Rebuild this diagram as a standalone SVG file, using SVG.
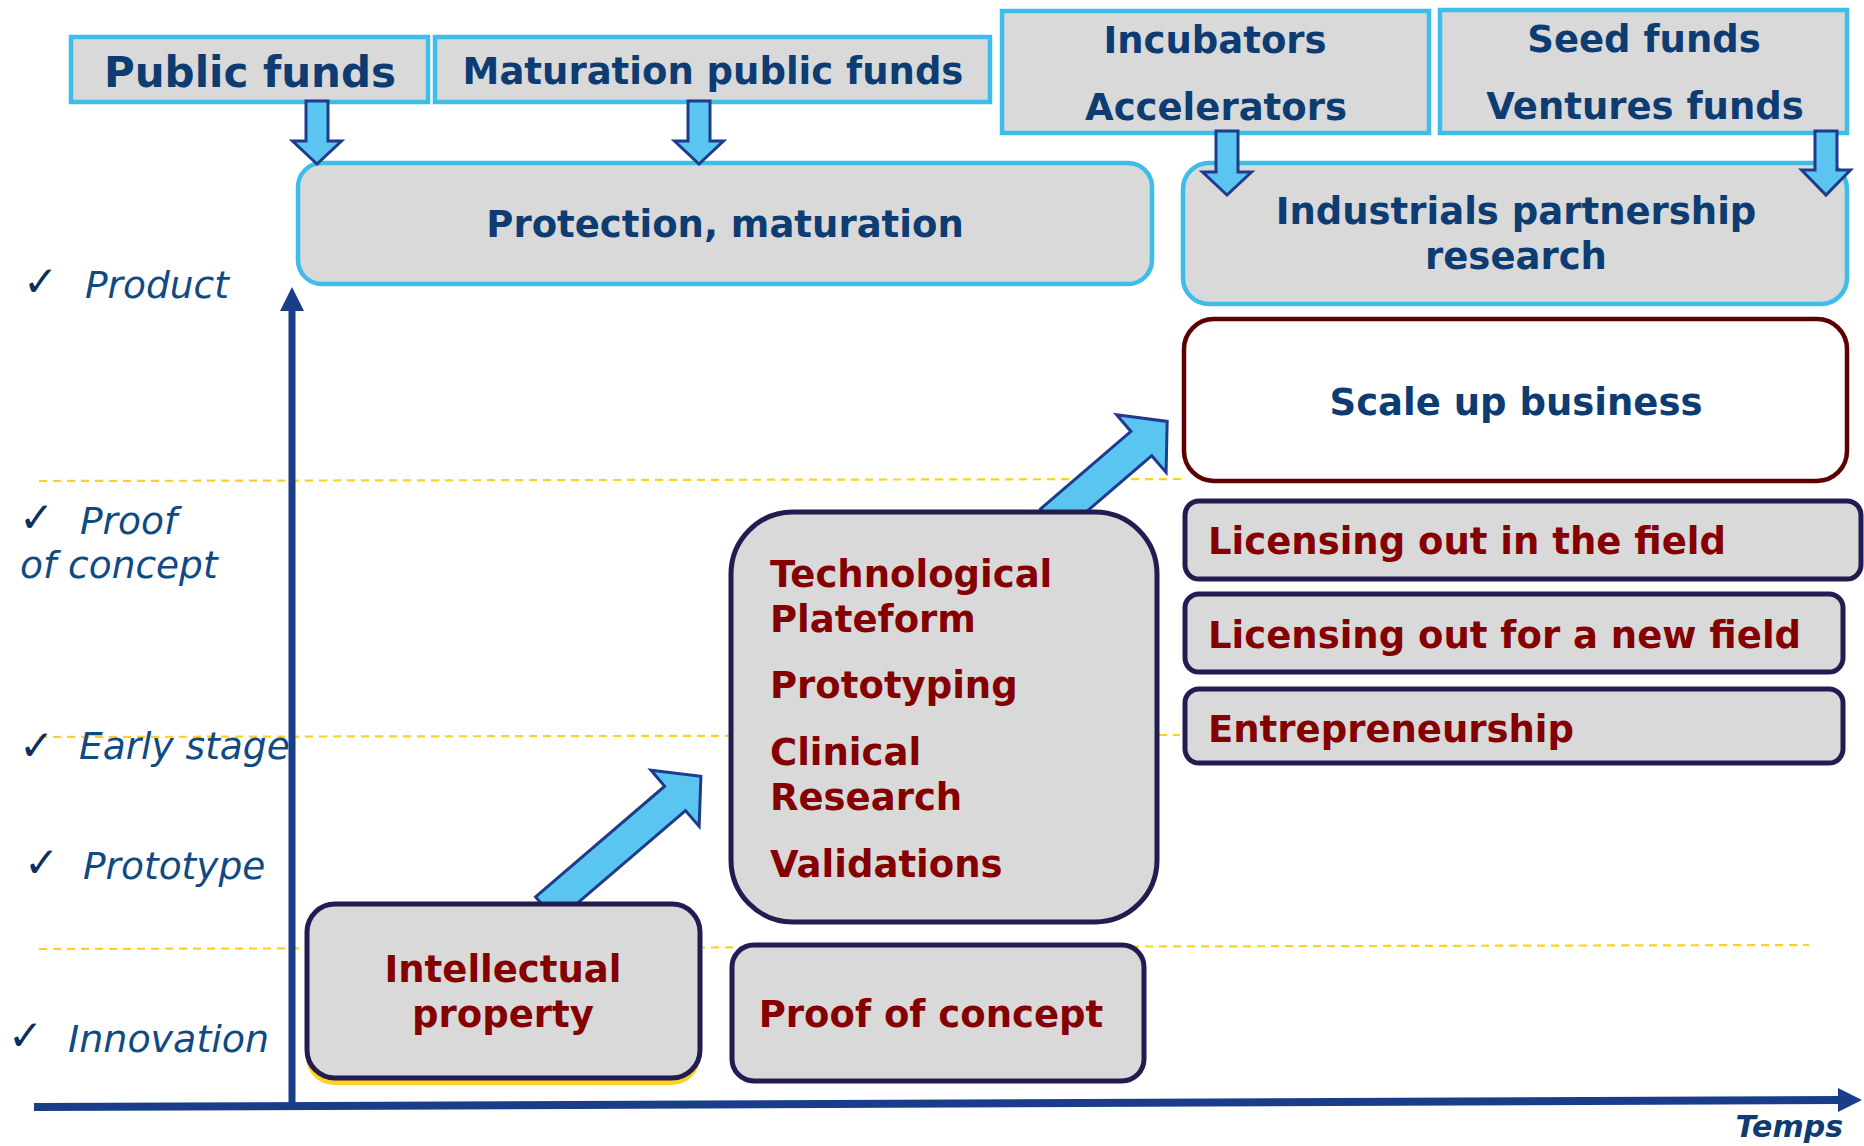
<svg xmlns="http://www.w3.org/2000/svg" width="1864" height="1146" viewBox="0 0 1864 1146">
<style>
.top{fill:#D9D9D9;stroke:#3DBDE9;stroke-width:4.5}
.nv{fill:#D9D9D9;stroke:#211C52;stroke-width:5}
.t{font-family:"DejaVu Sans",Verdana,sans-serif;font-weight:bold;font-size:37px}
.blue{fill:#0D3C73}
.red{fill:#850000}
.lab{font-family:"DejaVu Sans",Verdana,sans-serif;font-style:italic;font-size:37.5px;fill:#0F4A82}
.chk{font-family:"DejaVu Sans",sans-serif;font-size:42px;fill:#0D2F60}
.dash{stroke:#FFD21F;stroke-width:2.2;stroke-dasharray:8 6;fill:none}
.barrow{fill:#5BC5F2;stroke:#1F3C8C;stroke-width:3;stroke-linejoin:miter}
.axis{fill:#1A3D8A}
</style>
<rect width="1864" height="1146" fill="#FFFFFF"/>

<g id="guides">
<line class="dash" x1="39" y1="481" x2="1183" y2="479"/>
<line class="dash" x1="39" y1="737" x2="1180" y2="735"/>
<line class="dash" x1="39" y1="949" x2="1809" y2="945"/>
</g>

<g id="labels">
<text class="chk" x="23" y="296">✓</text><text class="lab" x="85" y="298">Product</text>
<text class="chk" x="19" y="532">✓</text><text class="lab" x="80" y="534">Proof</text>
<text class="lab" x="20" y="578">of concept</text>
<text class="chk" x="19" y="760">✓</text><text class="lab" x="79" y="759">Early stage</text>
<text class="chk" x="24" y="877">✓</text><text class="lab" x="83" y="879">Prototype</text>
<text class="chk" x="8" y="1050">✓</text><text class="lab" x="68" y="1052" style="font-size:38px">Innovation</text>
<text class="t blue" x="1843" y="1137" text-anchor="end" style="font-size:30px;font-style:italic">Temps</text>
</g>

<g id="axes">
<rect class="axis" x="288.5" y="305" width="7" height="803"/>
<polygon class="axis" points="280,311 304,311 292,287"/>
<polygon class="axis" points="34,1103 1840,1096 1840,1104 34,1111"/>
<polygon class="axis" points="1838,1088 1862,1100 1838,1112"/>
</g>

<g id="connectors">
<polygon class="barrow" transform="translate(546,909) rotate(-40.6)" points="0,-16 170,-16 170,-37 204,0 170,37 170,16 0,16"/>
<polygon class="barrow" transform="translate(1051,521) rotate(-40.6)" points="0,-16 119,-16 119,-38 153,0 119,38 119,16 0,16"/>
</g>

<g id="n-public-funds">
<rect class="top" x="71" y="37" width="357" height="65"/>
<text class="t blue" x="250" y="87" text-anchor="middle" style="font-size:42px">Public funds</text>
</g>
<g id="n-maturation-funds">
<rect class="top" x="435" y="37" width="555" height="65"/>
<text class="t blue" x="713" y="84" text-anchor="middle">Maturation public funds</text>
</g>
<g id="n-incubators">
<rect class="top" x="1002" y="11" width="427" height="122"/>
<text class="t blue" x="1215" y="53" text-anchor="middle">Incubators</text>
<text class="t blue" x="1216" y="120" text-anchor="middle">Accelerators</text>
</g>
<g id="n-seed-funds">
<rect class="top" x="1440" y="10" width="407" height="123"/>
<text class="t blue" x="1644" y="52" text-anchor="middle">Seed funds</text>
<text class="t blue" x="1645" y="119" text-anchor="middle">Ventures funds</text>
</g>
<g id="n-protection">
<rect class="top" x="298" y="163" width="854" height="121" rx="24"/>
<text class="t blue" x="725" y="237" text-anchor="middle">Protection, maturation</text>
</g>
<g id="n-industrials">
<rect class="top" x="1183" y="163" width="664" height="141" rx="26"/>
<text class="t blue" x="1516" y="224" text-anchor="middle">Industrials partnership</text>
<text class="t blue" x="1516" y="269" text-anchor="middle">research</text>
</g>

<g id="down-arrows">
<polygon class="barrow" points="306,101 328,101 328,141 341.5,141 317,164 292.5,141 306,141"/>
<polygon class="barrow" points="688,101 710,101 710,141 723.5,141 699,164 674.5,141 688,141"/>
<polygon class="barrow" points="1216,131 1238,131 1238,172 1251.5,172 1227,195 1202.5,172 1216,172"/>
<polygon class="barrow" points="1815,131 1837,131 1837,170 1850.5,170 1826,195 1801.5,170 1815,170"/>
</g>

<g id="n-scale-up">
<rect x="1184" y="319" width="663" height="162" rx="30" fill="#FFFFFF" stroke="#5E0000" stroke-width="4.5"/>
<text class="t blue" x="1516" y="415" text-anchor="middle">Scale up business</text>
</g>
<g id="n-licensing-field">
<rect class="nv" x="1185" y="501" width="676" height="78" rx="14"/>
<text class="t red" x="1208" y="554">Licensing out in the field</text>
</g>
<g id="n-licensing-new">
<rect class="nv" x="1185" y="594" width="658" height="78" rx="14"/>
<text class="t red" x="1208" y="648">Licensing out for a new field</text>
</g>
<g id="n-entrepreneurship">
<rect class="nv" x="1185" y="689" width="658" height="74" rx="14"/>
<text class="t red" x="1208" y="742">Entrepreneurship</text>
</g>

<g id="n-tech-platform">
<rect class="nv" x="731" y="512" width="426" height="410" rx="62"/>
<text class="t red" x="770" y="587">Technological</text>
<text class="t red" x="770" y="632">Plateform</text>
<text class="t red" x="770" y="698">Prototyping</text>
<text class="t red" x="770" y="765">Clinical</text>
<text class="t red" x="770" y="810">Research</text>
<text class="t red" x="770" y="877">Validations</text>
</g>

<g id="n-intellectual-property">
<rect x="306" y="910" width="394" height="175" rx="28" fill="#FFD21F"/>
<rect class="nv" x="307" y="904" width="393" height="174" rx="28"/>
<text class="t red" x="503" y="982" text-anchor="middle">Intellectual</text>
<text class="t red" x="503" y="1027" text-anchor="middle">property</text>
</g>
<g id="n-proof-of-concept">
<rect class="nv" x="732" y="945" width="412" height="136" rx="22"/>
<text class="t red" x="931" y="1027" text-anchor="middle">Proof of concept</text>
</g>
</svg>
